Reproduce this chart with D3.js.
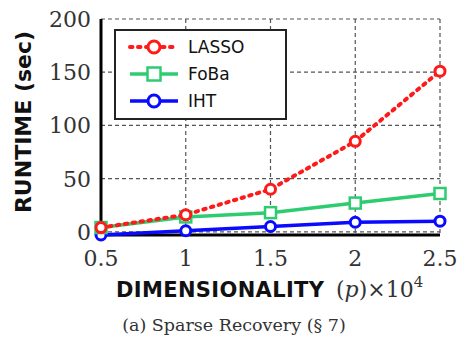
<!DOCTYPE html>
<html>
<head>
<meta charset="utf-8">
<script src="https://cdn.jsdelivr.net/npm/d3@7.9.0/dist/d3.min.js"></script>
<style>
  body { margin: 0; background: #fff; }
  svg { display: block; }
  .serif { font-family: "DejaVu Serif", serif; }
  .sans { font-family: "DejaVu Sans", sans-serif; }
</style>
</head>
<body>
<svg id="chart" width="460" height="343"></svg>
<script>
const dims = [0.5, 1, 1.5, 2, 2.5];
const lasso = [4, 16, 40, 85, 151];
const foba = [4, 14, 18, 27, 36];
const iht = [-3, 1, 5, 9, 10];
const yTicks = [0, 50, 100, 150, 200];
const xTicks = [0.5, 1, 1.5, 2, 2.5];

const series = [
  { name: 'LASSO', values: lasso, color: '#ff1a1a', dash: '2.5,5.5', marker: 'circle', width: 4 },
  { name: 'FoBa', values: foba, color: '#2ecc71', dash: null, marker: 'square', width: 3.5 },
  { name: 'IHT', values: iht, color: '#0a0aff', dash: null, marker: 'circle', width: 3.5 }
];

const svg = d3.select('#chart');
const plotL = 101, plotR = 440, plotT = 19, plotB = 235;

const x = d3.scaleLinear().domain([0.5, 2.5]).range([plotL, plotR]);
const y = d3.scaleLinear().domain([-3, 200]).range([plotB, plotT]);

// grid
const grid = svg.append('g').attr('stroke', '#555').attr('stroke-width', 1.2)
  .attr('stroke-dasharray', '4,3').attr('fill', 'none');
yTicks.forEach(t => {
  grid.append('line').attr('x1', plotL).attr('x2', plotR).attr('y1', y(t)).attr('y2', y(t));
});
xTicks.forEach(t => {
  grid.append('line').attr('x1', x(t)).attr('x2', x(t)).attr('y1', plotT).attr('y2', plotB);
});

// axes
svg.append('line').attr('x1', plotL).attr('x2', plotL).attr('y1', plotT).attr('y2', plotB + 1.5)
  .attr('stroke', '#000').attr('stroke-width', 3);
svg.append('line').attr('x1', plotL - 1.5).attr('x2', plotR).attr('y1', plotB).attr('y2', plotB)
  .attr('stroke', '#000').attr('stroke-width', 3);

svg.append('g').selectAll('text').data(yTicks).join('text')
  .attr('class', 'serif')
  .attr('x', plotL - 10).attr('y', d => y(d)).attr('dy', '0.36em')
  .attr('text-anchor', 'end').attr('font-size', 22).attr('font-weight', 300)
  .attr('fill', '#333').text(d => d);

svg.append('g').selectAll('text').data(xTicks).join('text')
  .attr('class', 'serif')
  .attr('x', d => x(d)).attr('y', 266)
  .attr('text-anchor', 'middle').attr('font-size', 22).attr('font-weight', 300)
  .attr('fill', '#333').text(d => d);

function drawMarker(g, cx, cy, s, r) {
  if (s.marker === 'circle') {
    g.append('circle').attr('cx', cx).attr('cy', cy).attr('r', r)
      .attr('fill', '#fff').attr('stroke', s.color).attr('stroke-width', 3);
  } else {
    g.append('rect').attr('x', cx - r - 0.5).attr('y', cy - r - 0.5)
      .attr('width', 2 * r + 1).attr('height', 2 * r + 1)
      .attr('fill', '#fff').attr('stroke', s.color).attr('stroke-width', 2.5);
  }
}

// series
const line = d3.line().x((d, i) => x(dims[i])).y(d => y(d));
series.slice().reverse().forEach(s => {
  svg.append('path').datum(s.values).attr('d', line)
    .attr('fill', 'none').attr('stroke', s.color).attr('stroke-width', s.width)
    .attr('stroke-linecap', s.dash ? 'round' : 'butt')
    .attr('stroke-dasharray', s.dash);
  s.values.forEach((v, i) => drawMarker(svg, x(dims[i]), y(v), s, 5));
});

// legend
const lg = svg.append('g');
lg.append('rect').attr('x', 115).attr('y', 30).attr('width', 171).attr('height', 89)
  .attr('fill', '#fff').attr('stroke', '#222').attr('stroke-width', 2);
series.forEach((s, i) => {
  const ly = 47 + i * 27;
  lg.append('line').attr('x1', 130).attr('x2', 178).attr('y1', ly).attr('y2', ly)
    .attr('stroke', s.color).attr('stroke-width', s.width)
    .attr('stroke-linecap', s.dash ? 'round' : 'butt')
    .attr('stroke-dasharray', s.dash);
  drawMarker(lg, 154, ly, s, 6);
  lg.append('text').attr('class', 'sans').attr('x', 188).attr('y', ly).attr('dy', '0.36em')
    .attr('font-size', 17).attr('fill', '#111').text(s.name);
});

// axis titles
svg.append('text').attr('class', 'sans').attr('transform', 'translate(31,122) rotate(-90)')
  .attr('text-anchor', 'middle').attr('font-weight', 'bold')
  .attr('font-size', 22).attr('fill', '#111').text('RUNTIME (sec)');

svg.append('text').attr('class', 'sans').attr('x', 116).attr('y', 297)
  .attr('font-weight', 'bold')
  .attr('font-size', 21).attr('textLength', 208).attr('fill', '#111').text('DIMENSIONALITY');

const xl = svg.append('text').attr('class', 'serif').attr('x', 336).attr('y', 297)
  .attr('font-size', 22).attr('font-weight', 300).attr('fill', '#333');
xl.append('tspan').text('(');
xl.append('tspan').attr('font-style', 'italic').text('p');
xl.append('tspan').text(')×10');
xl.append('tspan').attr('font-size', 15).attr('dy', -10).text('4');

svg.append('text').attr('class', 'serif').attr('x', 234).attr('y', 331).attr('text-anchor', 'middle')
  .attr('font-size', 17.5).attr('font-weight', 300).attr('fill', '#333')
  .text('(a) Sparse Recovery (§ 7)');
</script>
</body>
</html>
